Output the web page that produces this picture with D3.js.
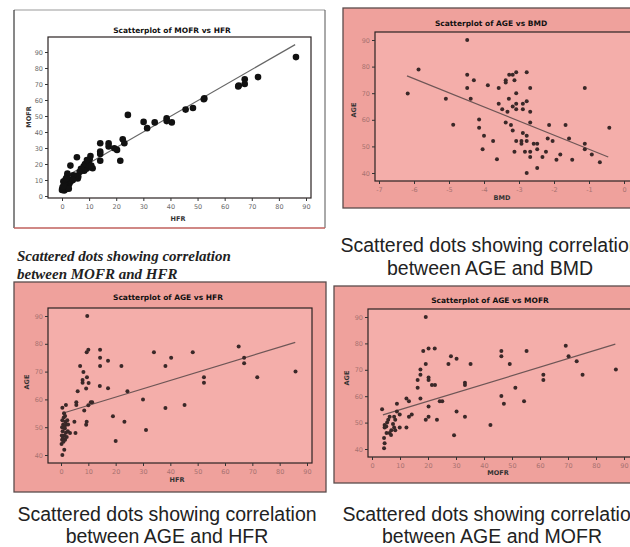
<!DOCTYPE html>
<html>
<head>
<meta charset="utf-8">
<script src="https://d3js.org/d3.v7.min.js"></script>
<style>
body { margin: 0; background: #fff; }
svg { display: block; }
</style>
</head>
<body>
<svg width="630" height="547"></svg>
<script>
// values (x, y pairs)
var mofrVsHfr = [[86.3,86.8],[72.3,74.3],[67.4,73],[67.4,70],[65.2,69],[65,68.5],[52.5,61],[52.3,60.5],[48.3,55],[45.6,54],[40.5,46],[38.6,48.6],[38.6,46.8],[34.2,46],[31.4,42.4],[30.1,46.3],[24.3,50.7],[23,33],[22.4,35.5],[21.5,22],[20.3,28.8],[19.3,29.8],[17.2,31],[17.2,33],[14.1,33],[14.1,27.8],[14.1,26.3],[14.1,22],[11.3,17.3],[10.5,25],[10.2,23],[9.8,21],[9.5,19],[9,17],[8.5,20],[8,18.5],[7.5,16],[10,18],[10.8,19],[9.2,22.5],[8.2,15.8],[7,17],[6.5,15],[6,12],[5.8,11],[5.5,24.2],[5,12.5],[4.2,13],[3.1,19],[3,10],[2.8,8],[2.5,7],[2.2,6],[2,12.8],[2,14],[1.8,9],[1.5,5],[1.2,4],[1,8],[0.8,3.5],[0.5,9],[0.3,4],[0,3.8],[0.2,5.5],[1,6.5],[2.5,4.5],[3.5,9.5],[4,10],[1.5,11],[0.5,6]];

var ageVsBmd = [[-6.18,69.9],[-5.87,78.9],[-5.09,67.9],[-4.88,58.1],[-4.48,90],[-4.48,76.9],[-4.48,72],[-4.38,67.9],[-4.29,74.9],[-4.14,60.1],[-4.14,57],[-4.0,54],[-4.04,48.9],[-3.89,73],[-3.74,52],[-3.63,45.2],[-3.58,72],[-3.58,66],[-3.48,64],[-3.38,59],[-3.38,74.9],[-3.38,74],[-3.33,63],[-3.29,67.9],[-3.28,76.9],[-3.23,58],[-3.18,76.9],[-3.18,65],[-3.18,56],[-3.13,74.9],[-3.13,48],[-3.08,77.9],[-3.08,70],[-3.08,66],[-3.08,64],[-3.08,52],[-2.93,51],[-2.93,52],[-2.89,55],[-2.89,66],[-2.89,64],[-2.83,48],[-2.78,54],[-2.78,52],[-2.78,77.9],[-2.78,67],[-2.78,40],[-2.68,72],[-2.68,63],[-2.68,59],[-2.68,48],[-2.68,46],[-2.58,51],[-2.48,51],[-2.48,48.9],[-2.48,41.9],[-2.33,46],[-2.23,48],[-2.18,53],[-2.14,58],[-2.04,52],[-1.93,45],[-1.82,47],[-1.67,58],[-1.57,53],[-1.48,45],[-1.12,72],[-1.12,51],[-1.12,48.9],[-0.92,47],[-0.69,44],[-0.42,57]];

var ageVsHfr = [[9.6,90],[9.4,77],[10,77.9],[14.3,77.9],[14.3,75],[14.3,72],[14.2,64.8],[17.2,73.9],[17.2,64],[22.1,72],[24.3,62.9],[19,53.9],[23.2,52],[20,45],[7,72],[8.2,69.9],[7.9,67],[7.9,66],[9.5,68],[10.1,65.9],[9.2,63.9],[6.1,62.9],[5.6,59],[5.6,58],[8.5,56],[9.4,52],[9.2,50.9],[10,57.9],[10.9,59],[11.4,59],[4.9,52],[5.3,47.9],[3.3,47.9],[1.8,58],[0.5,57],[0.5,40],[1.2,41.9],[0.2,44],[0.4,45.5],[0.3,47],[0.6,48.5],[0.4,50],[0.8,51],[0.5,52.5],[1,53.5],[1.1,55],[1.5,54],[1.6,52],[2,51],[2.3,52.5],[2.6,51],[1.4,49.5],[1.8,48],[1.2,47],[2.1,46.5],[1.5,45.5],[0.9,44.8],[2.5,48.5],[1.3,50.2],[0.7,46.2],[30,60],[31.1,49],[34,77],[38.2,72],[38.2,56.9],[40.3,75],[45.2,58],[48.2,77],[52.3,68],[52.3,66],[65,79],[67,75],[67,73],[71.8,68],[85.8,70]];

var ageVsMofr = [[19.2,90],[18.3,77.1],[20.2,78.1],[22.4,78.1],[19.2,72.2],[17.3,70.1],[17.3,68.1],[16.3,66.1],[16.3,63.2],[20.2,67.1],[20.2,66.1],[21.4,64.2],[22.5,64.2],[17.3,59.1],[20.2,56.1],[20.2,52.2],[19.2,51.1],[23.2,51.1],[24.2,58.1],[25.1,58.1],[28.2,75.1],[30.2,74.2],[27.3,72.2],[33.2,65.1],[33.2,64.2],[35.2,72.2],[30.2,54.2],[33.2,52.2],[29.3,45.2],[42.3,49.1],[46.2,77.1],[46.2,75.1],[49.2,72.2],[46.2,60.1],[47.1,57.1],[51.2,63.2],[54.3,58.1],[55.2,77.1],[61.2,68.1],[61.2,66.1],[69.2,79.1],[70.2,75.1],[73.1,73.2],[75.2,68.1],[87.1,70.1],[3.6,55.1],[4.5,49.1],[4.5,48.1],[4.3,44.2],[4.5,42.2],[4.3,40.3],[5.2,46.1],[5.8,51.1],[6.3,52.2],[7.9,48.1],[6.9,47.1],[6.3,46.1],[8.3,51.1],[8.9,57.1],[8.9,54.2],[7.9,52.2],[9.9,53.1],[9.9,48.1],[8.3,47.1],[12.3,59.1],[13.2,58.1],[13.2,52.2],[14.2,53.1],[12.3,48.1],[5.4,50],[5.1,48.5],[6.8,45.3],[7.5,49.5]];

// fitted line endpoints
var fitMofrHfr = [[0,10.8],[86,94.6]];
var fitAgeBmd = [[-6.2,76.5],[-0.45,46]];
var fitAgeHfr = [[0.9,55.1],[85.7,80.5]];
var fitAgeMofr = [[3.9,52.9],[86.9,79.7]];

// tick labels
var ticks0to90 = [0,10,20,30,40,50,60,70,80,90];
var bmdTicks = [-7,-6,-5,-4,-3,-2,-1,0];
var ageTicks = [40,50,60,70,80,90];

var captionTop1 = ["Scattered dots showing correlation", "between MOFR and HFR"];
var captionTop2 = ["Scattered dots showing correlation", "between AGE and BMD"];
var captionBot1 = ["Scattered dots showing correlation", "between AGE and HFR"];
var captionBot2 = ["Scattered dots showing correlation", "between AGE and MOFR"];

var svg = d3.select("svg");

var pink = "#efa19c", pinkPlot = "#f4aeaa";

var panels = [
  { data: mofrVsHfr, fit: fitMofrHfr, title: "Scatterplot of MOFR vs HFR", xLabel: "HFR", yLabel: "MOFR",
    box: [14, 10, 311, 218], plot: [48, 37, 263, 161], bg: "#fff", plotBg: "#fff",
    xd: [0, 90], xr: [62, 306], yd: [0, 90], yr: [196, 52],
    xTicks: ticks0to90, yTicks: ticks0to90, r: 3.3, tickColor: "#6a6a6a",
    titleXY: [172, 33], xLabXY: [178, 221], yLabXY: [31, 117] },
  { data: ageVsBmd, fit: fitAgeBmd, title: "Scatterplot of AGE vs BMD", xLabel: "BMD", yLabel: "AGE",
    box: [343, 8, 300, 200], plot: [375, 32, 270, 149], bg: pink, plotBg: pinkPlot,
    xd: [-7, 0], xr: [379, 624], yd: [40, 90], yr: [173, 40],
    xTicks: bmdTicks, yTicks: ageTicks, r: 2, tickColor: "#a77270",
    titleXY: [491, 26], xLabXY: [502, 200], yLabXY: [356, 110] },
  { data: ageVsHfr, fit: fitAgeHfr, title: "Scatterplot of AGE vs HFR", xLabel: "HFR", yLabel: "AGE",
    box: [14, 282, 312, 210], plot: [48, 308, 264, 155], bg: pink, plotBg: pinkPlot,
    xd: [0, 90], xr: [61, 307], yd: [40, 90], yr: [455, 316],
    xTicks: ticks0to90, yTicks: ageTicks, r: 2, tickColor: "#a77270",
    titleXY: [168, 300], xLabXY: [177, 482], yLabXY: [29, 382] },
  { data: ageVsMofr, fit: fitAgeMofr, title: "Scatterplot of AGE vs MOFR", xLabel: "MOFR", yLabel: "AGE",
    box: [334, 286, 310, 197], plot: [368, 309, 280, 148], bg: pink, plotBg: pinkPlot,
    xd: [0, 90], xr: [372, 624], yd: [40, 90], yr: [449, 317],
    xTicks: ticks0to90, yTicks: ageTicks, r: 2, tickColor: "#a77270",
    titleXY: [490, 303], xLabXY: [498, 475], yLabXY: [349, 378] }
];

var fmt = function(d) { return String(d); };

panels.forEach(function(p, i) {
  var g = svg.append("g");
  g.append("rect")
    .attr("x", p.box[0]).attr("y", p.box[1]).attr("width", p.box[2]).attr("height", p.box[3])
    .attr("fill", p.bg)
    .attr("stroke", i == 0 ? "none" : "#5a4c4c").attr("stroke-width", 1.3);
  if (i == 0) {
    var b = p.box;
    g.append("line").attr("x1", b[0]).attr("y1", b[1]).attr("x2", b[0] + b[2]).attr("y2", b[1]).attr("stroke", "#999");
    g.append("line").attr("x1", b[0]).attr("y1", b[1]).attr("x2", b[0]).attr("y2", b[1] + b[3]).attr("stroke", "#111");
    g.append("line").attr("x1", b[0] + b[2]).attr("y1", b[1]).attr("x2", b[0] + b[2]).attr("y2", b[1] + b[3]).attr("stroke", "#555");
    g.append("line").attr("x1", b[0]).attr("y1", b[1] + b[3]).attr("x2", b[0] + b[2]).attr("y2", b[1] + b[3]).attr("stroke", "#c0605c").attr("stroke-width", 1.5);
  }
  g.append("rect")
    .attr("x", p.plot[0]).attr("y", p.plot[1]).attr("width", p.plot[2]).attr("height", p.plot[3])
    .attr("fill", p.plotBg).attr("stroke", "#2a2222").attr("stroke-width", 1.2);

  var x = d3.scaleLinear().domain(p.xd).range(p.xr);
  var y = d3.scaleLinear().domain(p.yd).range(p.yr);

  var xAxis = g.append("g")
    .attr("transform", "translate(0," + (p.plot[1] + p.plot[3]) + ")")
    .call(d3.axisBottom(x).tickValues(p.xTicks).tickFormat(fmt).tickSize(3).tickPadding(3));
  var yAxis = g.append("g")
    .attr("transform", "translate(" + p.plot[0] + ",0)")
    .call(d3.axisLeft(y).tickValues(p.yTicks).tickFormat(fmt).tickSize(3).tickPadding(2));
  [xAxis, yAxis].forEach(function(a) {
    a.select(".domain").remove();
    a.selectAll(".tick line").attr("stroke", "#333");
    a.selectAll(".tick text").attr("fill", p.tickColor)
      .style("font-family", "'DejaVu Sans', sans-serif").style("font-size", "6.5px");
  });

  g.append("text").attr("x", p.titleXY[0]).attr("y", p.titleXY[1])
    .attr("text-anchor", "middle").style("font-family", "'DejaVu Sans', sans-serif")
    .style("font-size", "7.5px").style("font-weight", "bold").attr("fill", "#111").text(p.title);
  g.append("text").attr("x", p.xLabXY[0]).attr("y", p.xLabXY[1])
    .attr("text-anchor", "middle").style("font-family", "'DejaVu Sans', sans-serif")
    .style("font-size", "6.5px").style("font-weight", "bold").attr("fill", "#333").text(p.xLabel);
  g.append("text").attr("transform", "translate(" + p.yLabXY[0] + "," + p.yLabXY[1] + ") rotate(-90)")
    .attr("text-anchor", "middle").style("font-family", "'DejaVu Sans', sans-serif")
    .style("font-size", "6.5px").style("font-weight", "bold").attr("fill", "#333").text(p.yLabel);

  g.append("line")
    .attr("x1", x(p.fit[0][0])).attr("y1", y(p.fit[0][1]))
    .attr("x2", x(p.fit[1][0])).attr("y2", y(p.fit[1][1]))
    .attr("stroke", i == 0 ? "#666" : "#6e5656").attr("stroke-width", 1.2);

  g.selectAll("circle.dot").data(p.data).enter().append("circle")
    .attr("class", "dot")
    .attr("cx", function(d) { return x(d[0]); })
    .attr("cy", function(d) { return y(d[1]); })
    .attr("r", p.r)
    .attr("fill", i == 0 ? "#111" : "#3a2828");
});

// captions
function caption(lines, cx, y0, dy, style) {
  lines.forEach(function(t, k) {
    var tx = svg.append("text").attr("y", y0 + k * dy).attr("fill", "#222").text(t);
    if (style == "serif") {
      tx.attr("x", cx).style("font-family", "'Liberation Serif', serif")
        .style("font-size", "15px").style("font-weight", "bold").style("font-style", "italic");
    } else {
      tx.attr("x", cx).attr("text-anchor", "middle")
        .style("font-family", "'Liberation Sans', Arial, sans-serif").style("font-size", "19.5px");
    }
  });
}
caption(captionTop1, 17, 261, 18, "serif");
caption(captionTop2, 490, 252, 23, "sans");
caption(captionBot1, 167, 521, 22, "sans");
caption(captionBot2, 492, 521, 21.5, "sans");
</script>
</body>
</html>
